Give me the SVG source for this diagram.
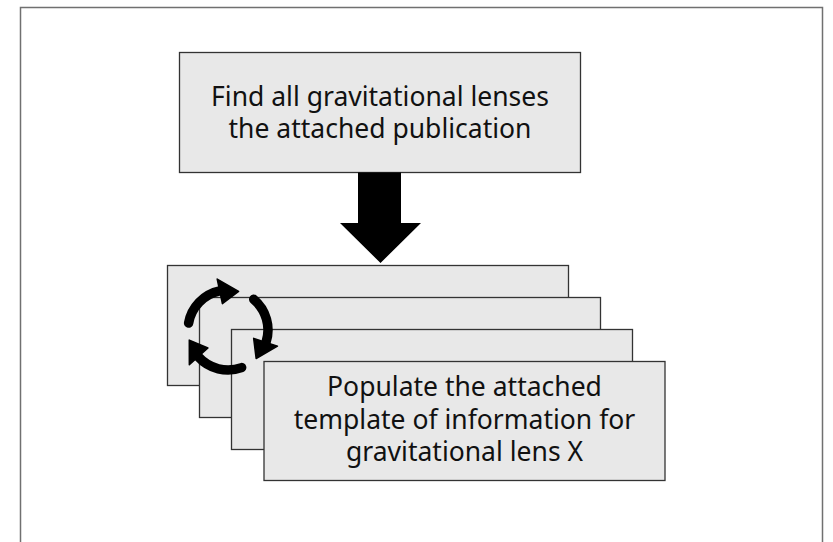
<svg xmlns="http://www.w3.org/2000/svg" width="833" height="542" viewBox="0 0 833 542">
  <style>
    .box { fill: #e8e8e8; stroke: #333333; stroke-width: 1.3; }
    .label { font-family: "Noto Sans", "Liberation Sans", sans-serif; font-size: 26.5px; fill: #111111; text-anchor: middle; }
    .cyc { fill: none; stroke: #000000; stroke-width: 9.5; stroke-linecap: round; }
  </style>
  <rect width="833" height="542" fill="#ffffff"/>
  <!-- outer frame, open at the bottom edge -->
  <path id="frame" d="M20.5,545 V7.5 H822.5 V545" fill="none" stroke="#707070" stroke-width="1.5"/>

  <g id="find-lenses">
    <rect class="box" x="179.5" y="52.5" width="401" height="120"/>
    <text class="label" x="380" y="105.5">Find all gravitational lenses</text>
    <text class="label" x="380" y="138">the attached publication</text>
  </g>

  <g id="connectors">
    <path id="down-arrow" d="M358,172.5 H401 V223 H421 L380.5,263 L340,223 H358 Z" fill="#000000"/>
  </g>

  <g id="template-stack">
    <rect class="box" x="167.5" y="265.5" width="401" height="120"/>
    <rect class="box" x="199.5" y="297.5" width="401" height="120"/>
    <rect class="box" x="231.5" y="329.5" width="401" height="120"/>
  </g>

  <!-- loop symbol: three clockwise arcs with arrowheads -->
  <g id="loop-icon">
    <g id="loop-arm">
      <path class="cyc" d="M188.6,323.05 A40,40 0 0 1 219.7,290.9"/>
      <polygon points="217.2,279.1 238.6,291.4 222.4,303.6" fill="#000000" stroke="#000000" stroke-width="1.5" stroke-linejoin="round"/>
    </g>
    <use href="#loop-arm" transform="rotate(120 228 330)"/>
    <use href="#loop-arm" transform="rotate(240 228 330)"/>
  </g>

  <g id="populate-template">
    <rect class="box" x="264" y="361.5" width="401" height="119"/>
    <text class="label" x="464.5" y="396">Populate the attached</text>
    <text class="label" x="464.5" y="428.5">template of information for</text>
    <text class="label" x="464.5" y="461">gravitational lens X</text>
  </g>
</svg>
